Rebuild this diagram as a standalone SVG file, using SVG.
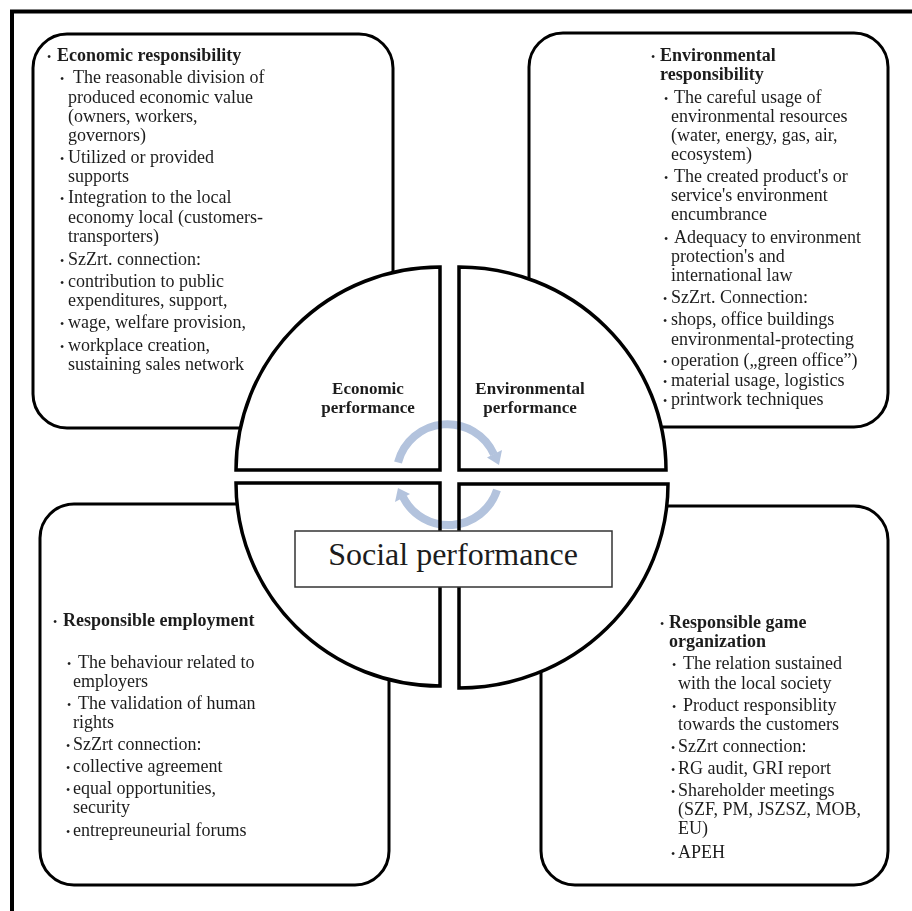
<svg xmlns="http://www.w3.org/2000/svg" width="912" height="911" viewBox="0 0 912 911">
<style>
.frame{fill:none;stroke:#000;stroke-width:4}
.box{fill:#fff;stroke:#000;stroke-width:3}
.q{fill:#fff;stroke:#000;stroke-width:3.5;stroke-linejoin:miter}
text{font-family:"Liberation Serif","Times New Roman",serif;fill:#1c1c1c}
.t{font-size:18px}
.b{font-size:18px;font-weight:bold}
.bul{font-size:12px;font-weight:normal}
.lbl{font-size:17px;font-weight:bold;text-anchor:middle}
.soc{font-size:32px;text-anchor:middle}
.sbox{fill:#fff;stroke:#333;stroke-width:1.5}
.arc{fill:none;stroke:#b3c3dd;stroke-width:8}
.head{fill:#b3c3dd}
#connectors{mix-blend-mode:multiply}
</style>
<rect x="0" y="0" width="912" height="911" fill="#fff"/>
<path class="frame" d="M12,911 L12,11.5 L912,11.5"/>

<g id="economic-responsibility">
<rect class="box" x="33" y="34" width="360" height="394" rx="34"/>
<text class="b"><tspan class="bul" x="47" y="61">•</tspan><tspan x="57">Economic  responsibility</tspan></text>
<text class="t"><tspan class="bul" x="60" y="83">•</tspan><tspan x="73">The reasonable division of</tspan></text>
<text class="t" x="68" y="103">produced economic value</text>
<text class="t" x="68" y="122">(owners, workers,</text>
<text class="t" x="68" y="141">governors)</text>
<text class="t"><tspan class="bul" x="60" y="163">•</tspan><tspan x="68">Utilized  or provided</tspan></text>
<text class="t" x="68" y="182">supports</text>
<text class="t"><tspan class="bul" x="60" y="203">•</tspan><tspan x="68">Integration to the local</tspan></text>
<text class="t" x="68" y="223">economy local (customers-</text>
<text class="t" x="68" y="242">transporters)</text>
<text class="t"><tspan class="bul" x="60" y="265">•</tspan><tspan x="68">SzZrt.  connection:</tspan></text>
<text class="t"><tspan class="bul" x="60" y="287">•</tspan><tspan x="68">contribution to public</tspan></text>
<text class="t" x="68" y="306">expenditures,  support,</text>
<text class="t"><tspan class="bul" x="60" y="328">•</tspan><tspan x="68">wage, welfare  provision,</tspan></text>
<text class="t"><tspan class="bul" x="60" y="351">•</tspan><tspan x="68">workplace  creation,</tspan></text>
<text class="t" x="68" y="370">sustaining sales network</text>
</g>

<g id="environmental-responsibility">
<rect class="box" x="529" y="33" width="359" height="394" rx="34"/>
<text class="b"><tspan class="bul" x="651" y="61">•</tspan><tspan x="660">Environmental</tspan></text>
<text class="b" x="660" y="80">responsibility</text>
<text class="t"><tspan class="bul" x="664" y="103">•</tspan><tspan x="674">The careful usage of</tspan></text>
<text class="t" x="671" y="122">environmental resources</text>
<text class="t" x="671" y="141">(water,  energy, gas, air,</text>
<text class="t" x="671" y="160">ecosystem)</text>
<text class="t"><tspan class="bul" x="664" y="182">•</tspan><tspan x="674">The created product's or</tspan></text>
<text class="t" x="671" y="201">service's environment</text>
<text class="t" x="671" y="220">encumbrance</text>
<text class="t"><tspan class="bul" x="664" y="243">•</tspan><tspan x="674">Adequacy to environment</tspan></text>
<text class="t" x="671" y="262">protection's and</text>
<text class="t" x="671" y="281">international law</text>
<text class="t"><tspan class="bul" x="663" y="303">•</tspan><tspan x="671">SzZrt.  Connection:</tspan></text>
<text class="t"><tspan class="bul" x="663" y="325">•</tspan><tspan x="671">shops, office buildings</tspan></text>
<text class="t" x="671" y="345">environmental-protecting</text>
<text class="t"><tspan class="bul" x="663" y="366">•</tspan><tspan x="671">operation („green office”)</tspan></text>
<text class="t"><tspan class="bul" x="663" y="386">•</tspan><tspan x="671">material  usage, logistics</tspan></text>
<text class="t"><tspan class="bul" x="663" y="405">•</tspan><tspan x="671">printwork  techniques</tspan></text>
</g>

<g id="responsible-employment">
<rect class="box" x="40" y="504" width="349" height="381" rx="34"/>
<text class="b"><tspan class="bul" x="53" y="626">•</tspan><tspan x="63">Responsible  employment</tspan></text>
<text class="t"><tspan class="bul" x="67" y="668">•</tspan><tspan x="78">The behaviour related to</tspan></text>
<text class="t" x="73" y="687">employers</text>
<text class="t"><tspan class="bul" x="67" y="709">•</tspan><tspan x="78">The validation of human</tspan></text>
<text class="t" x="73" y="728">rights</text>
<text class="t"><tspan class="bul" x="66" y="750">•</tspan><tspan x="73">SzZrt  connection:</tspan></text>
<text class="t"><tspan class="bul" x="66" y="772">•</tspan><tspan x="73">collective agreement</tspan></text>
<text class="t"><tspan class="bul" x="66" y="794">•</tspan><tspan x="73">equal opportunities,</tspan></text>
<text class="t" x="73" y="813">security</text>
<text class="t"><tspan class="bul" x="66" y="836">•</tspan><tspan x="73">entrepreuneurial forums</tspan></text>
</g>

<g id="responsible-game-organization">
<rect class="box" x="541" y="506" width="347" height="379" rx="34"/>
<text class="b"><tspan class="bul" x="660" y="628">•</tspan><tspan x="669">Responsible  game</tspan></text>
<text class="b" x="669" y="647">organization</text>
<text class="t"><tspan class="bul" x="672" y="669">•</tspan><tspan x="683">The relation  sustained</tspan></text>
<text class="t" x="678" y="689">with the local society</text>
<text class="t"><tspan class="bul" x="672" y="711">•</tspan><tspan x="683">Product responsiblity</tspan></text>
<text class="t" x="678" y="730">towards the customers</text>
<text class="t"><tspan class="bul" x="671" y="752">•</tspan><tspan x="678">SzZrt  connection:</tspan></text>
<text class="t"><tspan class="bul" x="671" y="774">•</tspan><tspan x="678">RG  audit, GRI  report</tspan></text>
<text class="t"><tspan class="bul" x="671" y="796">•</tspan><tspan x="678">Shareholder meetings</tspan></text>
<text class="t" x="678" y="815">(SZF,  PM,  JSZSZ,  MOB,</text>
<text class="t" x="678" y="834">EU)</text>
<text class="t"><tspan class="bul" x="671" y="858">•</tspan><tspan x="678">APEH</tspan></text>
</g>

<g id="economic-performance">
<path class="q" d="M440,267 L440,470 L236,470 A204,203 0 0,1 440,267 Z"/>
<text class="lbl" x="368" y="394">Economic</text>
<text class="lbl" x="368" y="413">performance</text>
</g>
<g id="environmental-performance">
<path class="q" d="M459,267 L459,470 L666,470 A207,203 0 0,0 459,267 Z"/>
<text class="lbl" x="530" y="394">Environmental</text>
<text class="lbl" x="530" y="413">performance</text>
</g>
<g id="social-left">
<path class="q" d="M440,483 L440,686 A204,203 0 0,1 236,483 Z"/>
</g>
<g id="social-right">
<path class="q" d="M459,484 L459,688 A209,204 0 0,0 668,484 Z"/>
</g>

<g id="connectors">
<path class="arc" d="M398,462.5 A51,51 0 0,1 494,454.5"/>
<polygon class="head" points="502,450 487,457.5 499,465"/>
<path class="arc" d="M497,490 A51,51 0 0,1 403,497"/>
<polygon class="head" points="395,502 410,494 398,488"/>
</g>

<g id="social-performance">
<rect class="sbox" x="295" y="531" width="317" height="56"/>
<text class="soc" x="453" y="565">Social performance</text>
</g>
</svg>
